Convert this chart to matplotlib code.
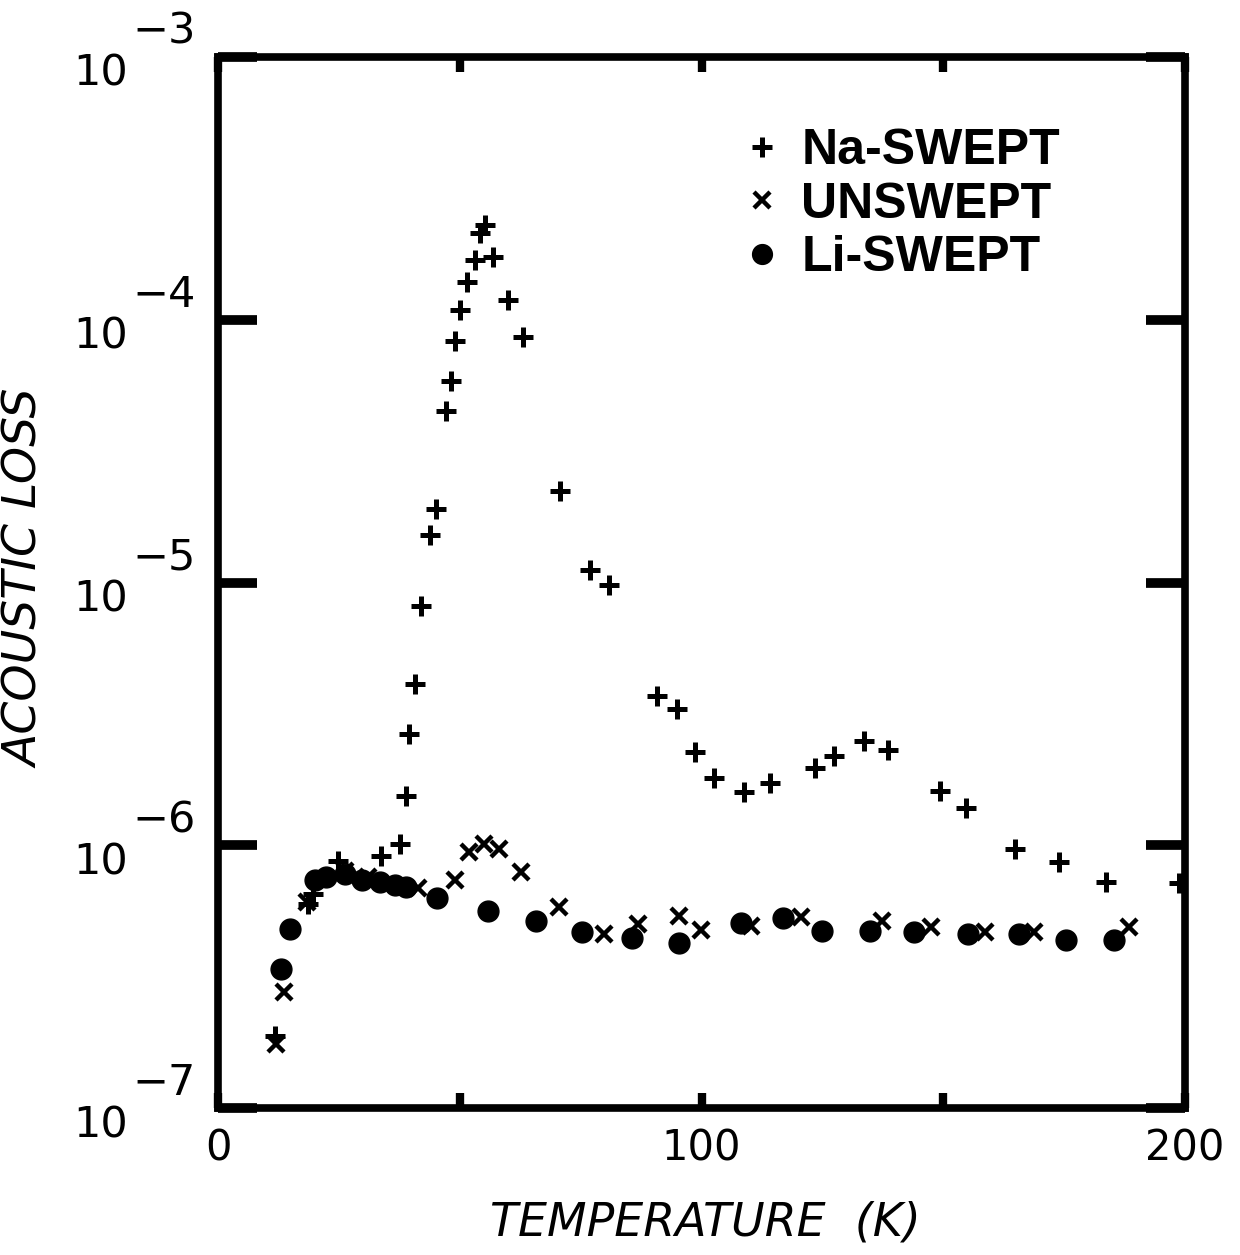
import numpy as np
import matplotlib
matplotlib.use("Agg")
import matplotlib.pyplot as plt
import matplotlib.transforms as mtransforms

# Na-swept data (temperature K, acoustic loss)
na_temp = [11.8, 18.6, 19.6, 24.8, 33.7, 37.6, 38.9, 39.5, 40.7, 42.0, 43.8, 45.1,
           47.2, 48.2, 49.0, 50.1, 51.5, 53.2, 54.2, 55.2, 56.9, 60.0, 63.1, 70.7,
           76.9, 80.9, 90.8, 94.9, 98.7, 102.6, 108.8, 114.2, 123.5, 127.4, 133.6,
           138.6, 149.3, 154.7, 164.8, 173.9, 183.7, 198.8]
na_logloss = [-6.726, -6.224, -6.186, -6.061, -6.042, -5.996, -5.814, -5.578, -5.388,
              -5.091, -4.821, -4.719, -4.346, -4.232, -4.080, -3.962, -3.856, -3.772,
              -3.669, -3.639, -3.760, -3.924, -4.065, -4.650, -4.951, -5.011, -5.433,
              -5.483, -5.646, -5.745, -5.798, -5.764, -5.707, -5.662, -5.605, -5.639,
              -5.795, -5.859, -6.015, -6.065, -6.141, -6.144]

# unswept
un_temp = [12.0, 13.7, 18.4, 26.3, 31.0, 41.4, 49.0, 51.9, 55.0, 58.1, 62.7, 70.5,
           79.8, 86.9, 95.3, 99.9, 110.2, 120.6, 137.3, 147.5, 158.6, 168.8, 188.4]
un_logloss = [-6.757, -6.559, -6.217, -6.099, -6.122, -6.163, -6.133, -6.027, -5.996,
              -6.015, -6.103, -6.236, -6.338, -6.300, -6.270, -6.323, -6.308, -6.274,
              -6.289, -6.312, -6.331, -6.331, -6.312]

# Li-swept
li_temp = [13.0, 14.9, 20.1, 22.3, 26.3, 29.8, 33.5, 36.6, 38.9, 45.3, 55.8, 65.8,
           75.3, 85.6, 95.3, 108.2, 116.9, 124.9, 134.9, 143.9, 155.1, 165.7, 175.4, 185.3]
li_logloss = [-6.471, -6.319, -6.133, -6.122, -6.110, -6.133, -6.141, -6.152, -6.160,
              -6.202, -6.251, -6.289, -6.331, -6.354, -6.373, -6.297, -6.278, -6.327,
              -6.327, -6.331, -6.338, -6.338, -6.361, -6.361]

decades = [-7, -6, -5, -4, -3]
xticks = [0, 50, 100, 150, 200]
xticklabels = ["0", "", "100", "", "200"]

fig = plt.figure(figsize=(12.4, 12.55), dpi=100)
ax = fig.add_axes([218/1240, 1-1108/1255, 967/1240, 1051/1255])

ax.plot(na_temp, 10.0**np.array(na_logloss), linestyle="none", marker="+",
        ms=15, mew=3.6, color="black", label="Na-SWEPT")
ax.plot(un_temp, 10.0**np.array(un_logloss), linestyle="none", marker="x",
        ms=12, mew=3.2, color="black", label="UNSWEPT")
ax.plot(li_temp, 10.0**np.array(li_logloss), linestyle="none", marker="o",
        ms=15, color="black", label="Li-SWEPT")

ax.set_yscale("log")
ax.set_xlim(0, 200)
ax.set_ylim(1e-7, 1e-3)
ax.minorticks_off()

for s in ax.spines.values():
    s.set_linewidth(5.5)

ax.set_yticks([10.0**e for e in decades])
ax.set_yticklabels([])
ax.tick_params(axis="y", which="major", direction="in", length=28, width=7,
               left=True, right=True)
ax.set_xticks(xticks)
ax.set_xticklabels(xticklabels, fontsize=30)
ax.tick_params(axis="x", which="major", direction="in", length=11, width=6,
               top=True, bottom=True, pad=14)

# y tick labels as 10 with raised exponent
trans = mtransforms.blended_transform_factory(ax.transAxes, ax.transData)
down = mtransforms.ScaledTranslation(0, -17/100, fig.dpi_scale_trans)
up = mtransforms.ScaledTranslation(0, 25/100, fig.dpi_scale_trans)
for e in decades:
    ax.text(-0.093, 10.0**e, "10", transform=trans + down, ha="right",
            va="center", fontsize=31, clip_on=False)
    ax.text(-0.088, 10.0**e, "\u2212%d" % (-e), transform=trans + up, ha="left",
            va="center", fontsize=31, clip_on=False)

ax.set_xlabel("TEMPERATURE  (K)", fontsize=33, fontstyle="italic")
ax.xaxis.set_label_coords(0.504, -0.088)
ax.set_ylabel("ACOUSTIC LOSS", fontsize=34, fontstyle="italic")
ax.yaxis.set_label_coords(-0.175, 0.504)

leg = ax.legend(loc="upper left", bbox_to_anchor=(0.50, 0.975), frameon=False,
                prop={"family": "Liberation Sans", "weight": "bold", "size": 36},
                handlelength=0.6, handletextpad=0.5, labelspacing=0.15,
                markerscale=0.95)

fig.savefig("out.png", dpi=100)
